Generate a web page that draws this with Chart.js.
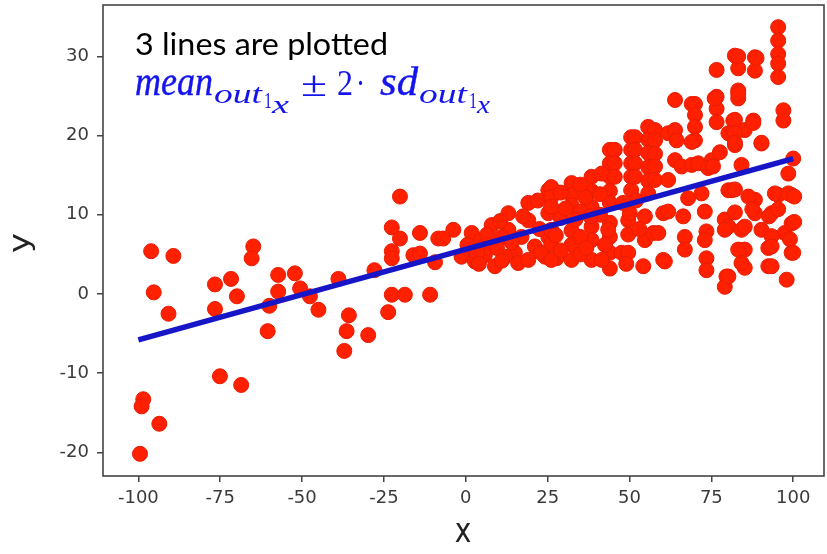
<!DOCTYPE html>
<html lang="en">
<head>
    <meta charset="UTF-8">
    <title>3 lines are plotted</title>
    <script src="https://cdn.jsdelivr.net/npm/chart.js"></script>
    <style>
        html, body {
            margin: 0;
            padding: 0;
            background: #ffffff;
        }
        #chart {
            display: block;
        }
    </style>
</head>
<body>
    <canvas id="chart" width="827" height="554"></canvas>
    <script>
        // tick labels
        const xTicks = [-100, -75, -50, -25, 0, 25, 50, 75, 100];
        const yTicks = [-20, -10, 0, 10, 20, 30];

        // fitted mean line (x, y at both ends)
        const fitX = [-100, 100];
        const fitY = [-5.8, 17.1];

        const leftPoints = [
            [-96.1, 5.4], [-89.3, 4.8], [-95.3, 0.2], [-90.8, -2.5], [-98.5, -13.3], [-99, -14.2],
            [-93.6, -16.4], [-99.5, -20.2], [-76.6, 1.2], [-71.7, 1.9], [-69.9, -0.3], [-76.6, -1.9],
            [-75.1, -10.4], [-68.6, -11.5], [-64.9, 6.0], [-65.4, 4.5], [-57.3, 2.4], [-52.2, 2.6],
            [-57.3, 0.3], [-50.6, 0.7], [-47.6, -0.3], [-60, -1.5], [-45, -2.0], [-60.5, -4.7],
            [-38.9, 1.9], [-35.7, -2.7], [-36.4, -4.7], [-37.1, -7.2], [-29.8, -5.2], [-27.9, 3.0],
            [-20.1, 12.3], [-22.6, 8.4], [-20.1, 7.0], [-22.6, 5.4], [-22.6, 4.5], [-14, 7.7],
            [-16, 4.9], [-14, 5.1], [-22.6, -0.1], [-18.6, -0.1], [-23.7, -2.3], [-10.9, -0.1],
            [-8.4, 7.0], [-9.4, 4.0], [-3.8, 8.1], [-6.9, 7.0]
        ];
        const midPoints = [
            [1.8, 7.7], [1.8, 5.6], [-1.3, 4.7], [2.8, 4.1], [7.9, 8.7], [8.9, 3.5], [7.9, 6.0],
            [13, 10.2], [13, 8.1], [15, 5.2], [16, 3.9], [19.1, 11.5], [19.1, 9.3], [21.1, 6.0],
            [19.1, 4.3], [25.2, 13.1], [25.2, 10.2], [25.2, 7.2], [24.2, 4.7], [4.8, 6.8], [10.9, 7.2],
            [5.8, 4.9], [12, 4.7], [17, 7.2], [27.7, 4.5], [0.5, 6.2], [3.5, 5.2], [6.5, 7.5],
            [9.5, 5.8], [10.5, 9.2], [14, 6.5], [17.5, 9.8], [22.5, 8.2], [22, 11.8], [23, 5.2],
            [11, 4.2], [4, 3.8],
            [26.1, 13.5], [26.1, 12.2], [26.1, 11], [26.1, 8.1], [26.1, 6.3], [26.1, 4.3],
            [32.3, 14.0], [32.3, 12.5], [32.3, 11.2], [32.3, 8.0], [32.3, 6.2], [32.3, 4.3],
            [38.4, 14.8], [38.4, 13.0], [38.4, 11.0], [38.4, 8.5], [38.4, 6.8], [38.4, 4.3],
            [44, 18.2], [44, 16.5], [44, 14.8], [44, 13.0], [44, 11.5], [44, 9.0], [44, 7.2],
            [44, 5.2], [44, 3.2], [41.5, 15.2], [45.5, 18.2], [45.5, 16.5], [45.5, 14.8],
            [47.6, 5.2], [43.5, 8.1], [41.5, 4.3], [29, 12.8], [29, 9.6], [29, 5.5], [35, 13.8],
            [35, 10.4], [35, 7.2], [35, 5.0], [41, 10.0], [41, 12.6], [38, 9.8],
            [30.5, 10.8], [36.5, 12.2], [33.5, 9.4], [27.5, 7.4], [36.8, 5.8], [42.5, 6.2]
        ];
        const upperPoints = [
            [50.5, 19.8], [50.5, 18.2], [50.5, 16.5], [50.5, 14.8], [50.5, 13.1], [49.6, 9.3],
            [49.6, 7.5], [49.6, 5.2], [51.7, 19.8], [51.7, 18.2], [51.7, 16.5], [51.7, 14.8],
            [55.7, 21.1], [55.7, 19.5], [55.7, 17.8], [55.7, 16.0], [55.7, 14.3], [55.7, 12.7],
            [54.7, 9.8], [54.7, 6.8], [54.2, 3.5], [57.8, 20.7], [57.8, 19.4], [57.8, 17.7],
            [57.8, 16.1], [57.8, 14.4], [57.3, 7.7], [58.8, 7.7], [60.3, 10.2], [60.3, 4.3],
            [60.8, 4.1], [61.8, 10.4], [61.8, 14.4], [61.8, 20.3], [50.1, 10.2], [52, 11.8],
            [53, 8.2], [48, 11.5], [49, 3.8],
            [63.9, 24.5], [63.9, 20.7], [64.4, 19.4], [63.9, 16.9], [65.9, 16.1], [69, 24.0],
            [70, 24.0], [70, 22.6], [70, 21.1], [70, 19.4], [69, 19.2], [69, 16.3], [71, 16.5],
            [75.1, 16.9], [74, 15.9], [75.5, 16.1], [76.6, 24.9], [76.6, 23.4], [76.6, 21.7],
            [76, 24.7], [76.6, 28.3], [77.6, 17.9], [80.2, 20.3], [81.7, 21.9], [81.7, 20.5],
            [82.2, 18.8], [82.2, 30.1], [83.2, 28.5], [83.2, 25.7], [83.2, 24.7], [84.2, 16.3],
            [66.4, 9.8], [66.9, 7.2], [66.9, 5.6], [67.9, 12.1], [72, 12.7], [73, 10.4],
            [73.5, 7.9], [73.5, 4.5], [73.5, 3.0], [73, 6.8], [79.1, 9.4], [80.2, 13.1],
            [80.2, 8.5], [79.6, 2.2], [79.1, 0.9], [81.2, 13.1]
        ];
        const rightPoints = [
            [84.2, 8.1], [85.2, 5.6], [85.2, 3.3], [85.2, 20.7], [87.8, 21.9], [88.3, 29.9],
            [88.3, 28.2], [88.3, 10.2], [88.3, 11.9], [90.3, 19.0], [90.3, 8.1], [92.4, 3.5],
            [92.4, 5.8], [93.4, 10.2], [95.4, 12.5], [95.4, 33.7], [95.4, 32.0], [95.4, 30.3],
            [95.4, 29.1], [95.4, 27.4], [97, 23.2], [97, 21.9], [97.4, 7.7], [98, 1.8],
            [98.5, 15.2], [99.5, 5.2], [99.5, 8.9], [99.5, 12.5], [100, 17.1],
            [83.2, 30], [88.8, 29.8], [83.2, 25.3], [82.2, 22], [82.2, 20.3], [82.2, 19.1],
            [87.8, 21.6], [90.3, 19.1], [82.2, 13.2], [86.3, 12.3], [94.4, 12.7], [98.5, 12.7],
            [100.3, 12.3], [82.2, 10.3], [87.5, 10.7], [92.6, 9.8], [95.4, 10.7], [100.3, 9.1],
            [79.1, 8.1], [85.2, 8.5], [93.4, 7.3], [99, 6.9], [83.2, 5.6], [93.4, 6.0],
            [100, 5.2], [84.2, 3.9], [93.4, 3.5], [80.2, 2.2]
        ];

        const observed = [...leftPoints, ...midPoints, ...upperPoints, ...rightPoints]
            .map(p => ({ x: p[0], y: p[1] }));
        const fitLine = fitX.map((x, i) => ({ x: x, y: fitY[i] }));

        // text drawn on top of the plot, squeezed to the widths seen in the picture
        function drawFit(ctx, text, font, x, baseline, width, color, sy, thick) {
            ctx.save();
            ctx.font = font;
            ctx.fillStyle = color;
            ctx.strokeStyle = color;
            ctx.lineWidth = 0.35;
            ctx.textBaseline = 'alphabetic';
            ctx.textAlign = 'left';
            const w = ctx.measureText(text).width;
            ctx.translate(x, baseline);
            ctx.scale(width / w, sy || 1.2);
            ctx.fillText(text, 0, 0);
            if (thick) ctx.strokeText(text, 0, 0);
            ctx.restore();
        }

        const overlay = {
            id: 'overlay',
            afterDraw(chart) {
                const ctx = chart.ctx;
                const a = chart.chartArea;

                // axes box
                ctx.save();
                ctx.strokeStyle = '#444';
                ctx.lineWidth = 1.6;
                ctx.strokeRect(a.left, a.top, a.right - a.left, a.bottom - a.top);
                ctx.restore();

                // axis titles
                ctx.save();
                ctx.fillStyle = '#222';
                ctx.font = '28px "DejaVu Sans"';
                ctx.textAlign = 'center';
                ctx.textBaseline = 'middle';
                ctx.translate(463, 533);
                ctx.scale(1, 1.2);
                ctx.fillText('x', 0, 0);
                ctx.restore();

                ctx.save();
                ctx.fillStyle = '#222';
                ctx.font = '28px "DejaVu Sans"';
                ctx.textAlign = 'center';
                ctx.textBaseline = 'middle';
                ctx.translate(22, 243);
                ctx.rotate(-Math.PI / 2);
                ctx.scale(1.2, 1);
                ctx.fillText('y', 0, 0);
                ctx.restore();

                // annotation
                drawFit(ctx, '3 lines are plotted', '26px Lato', 135, 55, 253, '#000');
                const blue = '#1414ee';
                const it = s => 'italic ' + s + 'px "Liberation Serif"';
                const up = s => s + 'px "Liberation Serif"';
                drawFit(ctx, 'mean', it(33), 135, 95, 78, blue, 1.2, true);
                drawFit(ctx, 'out', it(26), 214, 103, 48, blue, 1.02);
                drawFit(ctx, '1', up(19), 264, 108, 8, blue);
                drawFit(ctx, 'x', it(22), 272, 113, 17, blue, 1.1);
                drawFit(ctx, '±', up(34), 301, 96, 26, blue, 1.05);
                drawFit(ctx, '2', up(30), 337, 95, 16, blue);
                drawFit(ctx, '·', up(30), 356, 95, 9, blue);
                drawFit(ctx, 'sd', it(33), 380, 95, 38, blue, 1.2, true);
                drawFit(ctx, 'out', it(26), 419, 103, 48, blue, 1.02);
                drawFit(ctx, '1', up(19), 469, 108, 8, blue);
                drawFit(ctx, 'x', it(22), 477, 113, 13, blue, 1.1);
            }
        };

        const tickFont = { family: 'DejaVu Sans', size: 18 };

        new Chart(document.getElementById('chart').getContext('2d'), {
            type: 'scatter',
            data: {
                datasets: [
                    {
                        type: 'line',
                        label: 'mean',
                        data: fitLine,
                        borderColor: '#1616c8',
                        borderWidth: 5.5,
                        pointRadius: 0,
                        fill: false,
                        order: 0
                    },
                    {
                        label: 'out',
                        data: observed,
                        backgroundColor: '#ff2000',
                        borderColor: '#e81c00',
                        borderWidth: 1,
                        pointRadius: 7.5,
                        order: 1
                    }
                ]
            },
            options: {
                responsive: false,
                animation: false,
                devicePixelRatio: 1,
                layout: {
                    autoPadding: false,
                    padding: { top: 5, right: 3, left: 0, bottom: 0 }
                },
                plugins: {
                    legend: { display: false },
                    tooltip: { enabled: false }
                },
                scales: {
                    x: {
                        type: 'linear',
                        min: -110.8,
                        max: 109.4,
                        afterBuildTicks: scale => {
                            scale.ticks = xTicks.map(v => ({ value: v }));
                        },
                        afterFit: scale => {
                            scale.height = 78;
                            scale.paddingLeft = 0;
                            scale.paddingRight = 0;
                        },
                        border: { display: false },
                        grid: {
                            drawOnChartArea: false,
                            drawTicks: true,
                            tickLength: 6,
                            color: '#444',
                            lineWidth: 1.5
                        },
                        ticks: {
                            font: tickFont,
                            color: '#3a3a3a',
                            padding: 6,
                            maxRotation: 0
                        }
                    },
                    y: {
                        type: 'linear',
                        min: -23.0,
                        max: 36.5,
                        afterBuildTicks: scale => {
                            scale.ticks = yTicks.map(v => ({ value: v }));
                        },
                        afterFit: scale => {
                            scale.width = 103;
                            scale.paddingTop = 0;
                            scale.paddingBottom = 0;
                        },
                        border: { display: false },
                        grid: {
                            drawOnChartArea: false,
                            drawTicks: true,
                            tickLength: 6,
                            color: '#444',
                            lineWidth: 1.5
                        },
                        ticks: {
                            font: tickFont,
                            color: '#3a3a3a',
                            padding: 8
                        }
                    }
                }
            },
            plugins: [overlay]
        });
    </script>
</body>
</html>
